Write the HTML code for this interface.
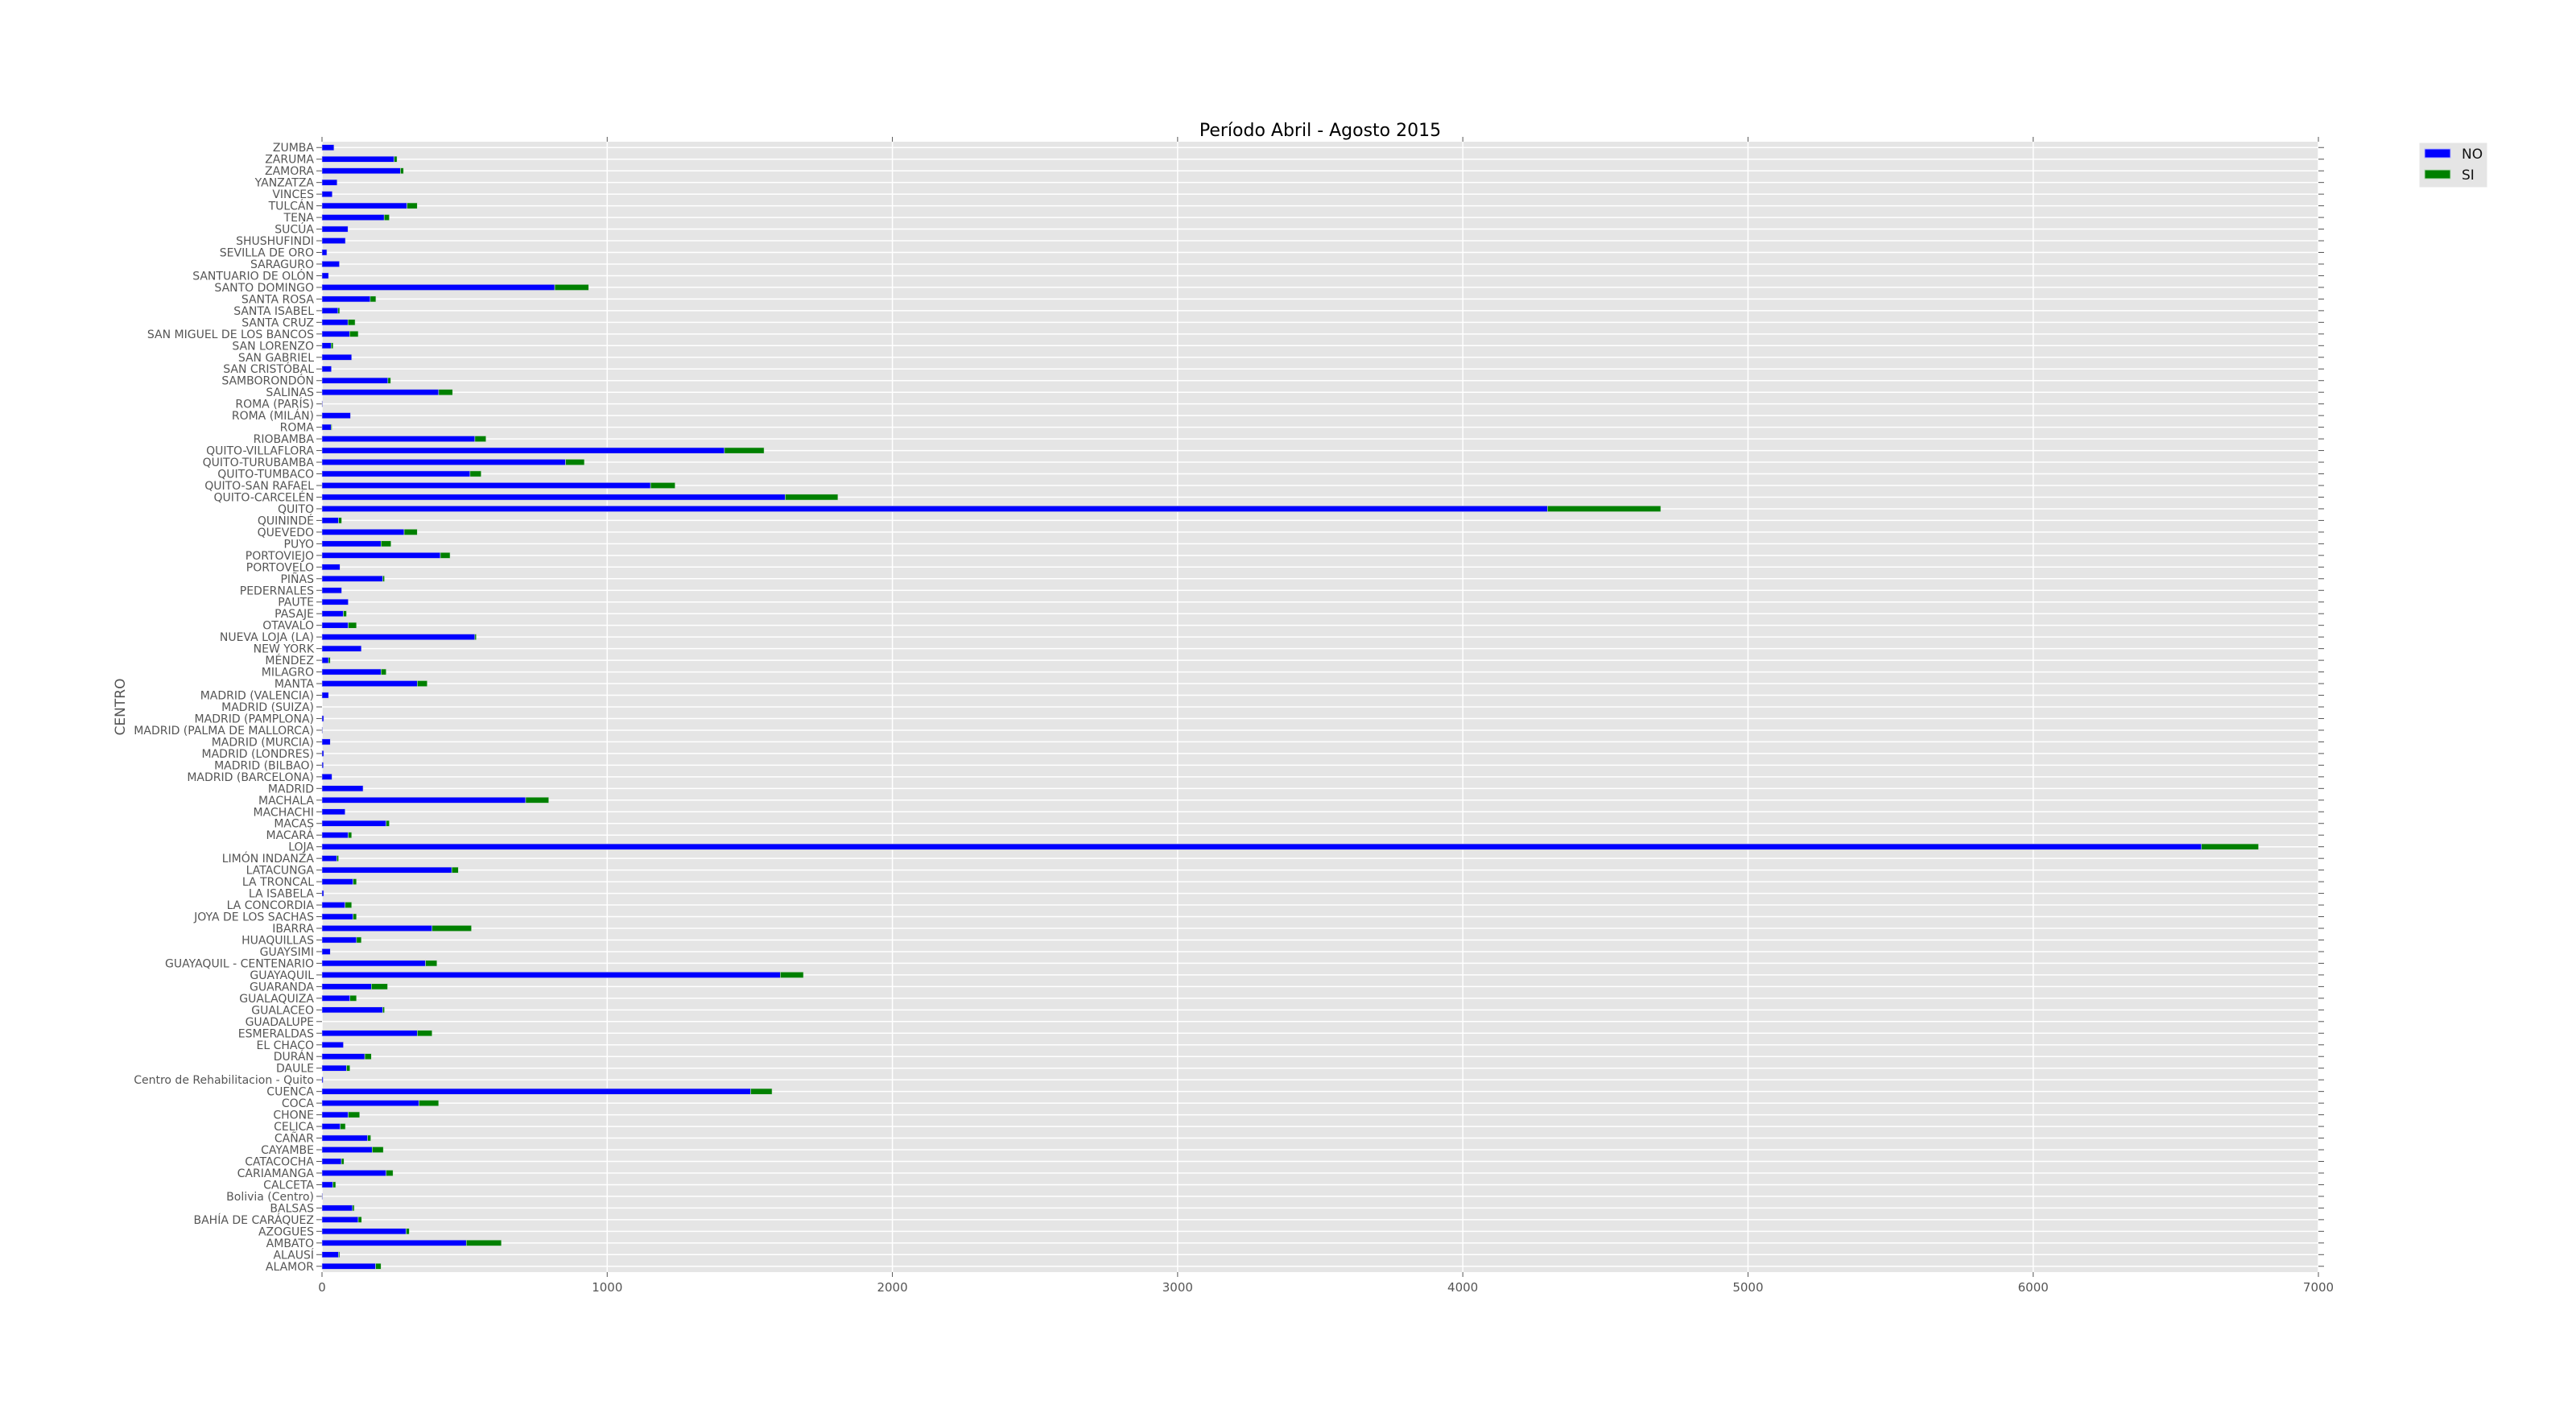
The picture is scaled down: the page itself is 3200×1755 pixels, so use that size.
<!DOCTYPE html>
<html><head><meta charset="utf-8"><style>
html,body{margin:0;padding:0;background:#fff;}
svg{display:block;font-family:"DejaVu Sans","Liberation Sans",sans-serif;}
</style></head><body>
<svg id="chart" width="3200" height="1755" viewBox="0 0 3200 1755" xmlns="http://www.w3.org/2000/svg">
<text x="1640" y="169" font-size="22" text-anchor="middle" fill="#000">Período Abril - Agosto 2015</text>
<text x="0" y="0" font-size="17" fill="#555" text-anchor="middle" transform="translate(155,878) rotate(-90)">CENTRO</text>
<g id="legend">
<rect x="3005" y="177" width="85" height="56" fill="#e5e5e5" stroke="#fff"/>
<rect x="3012" y="185" width="32" height="11" fill="#0000ff" stroke="#bbf"/>
<text x="3058" y="197" font-size="17" fill="#111">NO</text>
<rect x="3012" y="211" width="32" height="11" fill="#008000" stroke="#bdb"/>
<text x="3058" y="223" font-size="17" fill="#111">SI</text>
</g>
</svg>
<script>
const categories = ["ZUMBA","ZARUMA","ZAMORA","YANZATZA","VINCES","TULCÁN","TENA","SUCÚA","SHUSHUFINDI","SEVILLA DE ORO","SARAGURO","SANTUARIO DE OLÓN","SANTO DOMINGO","SANTA ROSA","SANTA ISABEL","SANTA CRUZ","SAN MIGUEL DE LOS BANCOS","SAN LORENZO","SAN GABRIEL","SAN CRISTÓBAL","SAMBORONDÓN","SALINAS","ROMA (PARÍS)","ROMA (MILÁN)","ROMA","RIOBAMBA","QUITO-VILLAFLORA","QUITO-TURUBAMBA","QUITO-TUMBACO","QUITO-SAN RAFAEL","QUITO-CARCELÉN","QUITO","QUININDÉ","QUEVEDO","PUYO","PORTOVIEJO","PORTOVELO","PIÑAS","PEDERNALES","PAUTE","PASAJE","OTAVALO","NUEVA LOJA (LA)","NEW YORK","MÉNDEZ","MILAGRO","MANTA","MADRID (VALENCIA)","MADRID (SUIZA)","MADRID (PAMPLONA)","MADRID (PALMA DE MALLORCA)","MADRID (MURCIA)","MADRID (LONDRES)","MADRID (BILBAO)","MADRID (BARCELONA)","MADRID","MACHALA","MACHACHI","MACAS","MACARÁ","LOJA","LIMÓN INDANZA","LATACUNGA","LA TRONCAL","LA ISABELA","LA CONCORDIA","JOYA DE LOS SACHAS","IBARRA","HUAQUILLAS","GUAYSIMI","GUAYAQUIL - CENTENARIO","GUAYAQUIL","GUARANDA","GUALAQUIZA","GUALACEO","GUADALUPE","ESMERALDAS","EL CHACO","DURÁN","DAULE","Centro de Rehabilitacion - Quito","CUENCA","COCA","CHONE","CELICA","CAÑAR","CAYAMBE","CATACOCHA","CARIAMANGA","CALCETA","Bolivia (Centro)","BALSAS","BAHÍA DE CARÁQUEZ","AZOGUES","AMBATO","ALAUSÍ","ALAMOR"];
const noValues = [42,253,275,53,36,298,218,91,82,17,61,23,816,169,56,91,97,32,104,33,231,409,2,100,32,536,1411,854,519,1152,1624,4297,58,288,207,415,63,213,69,92,75,92,536,138,23,207,334,23,0,6,2,29,6,5,35,144,714,81,225,92,6590,52,455,109,6,81,109,386,121,29,363,1607,173,98,213,0,334,75,150,86,4,1503,340,92,64,160,176,68,225,38,2,107,127,295,506,58,188];
const siValues = [0,10,11,0,0,36,18,0,0,0,0,0,119,20,6,25,30,7,0,0,10,49,0,0,3,39,139,66,39,86,185,397,11,46,35,34,0,6,0,0,11,29,5,0,6,18,35,0,0,0,0,0,0,0,0,0,81,0,11,12,200,6,23,12,0,23,12,138,17,0,40,81,57,23,6,0,52,0,23,12,0,75,69,40,18,11,39,9,24,10,0,6,12,11,123,4,19];
const xTicks = [0,1000,2000,3000,4000,5000,6000,7000];
const xMax = 7000;

const NS = "http://www.w3.org/2000/svg";
const svg = document.getElementById("chart");
const L = 400, R = 2880, T = 176, B = 1580;
const n = categories.length;
const step = (B - T) / n;
const xs = v => L + (v / xMax) * (R - L);
const yc = i => T + step * (i + 0.5);
function mk(tag, attrs, parent) {
  const e = document.createElementNS(NS, tag);
  for (const k in attrs) e.setAttribute(k, attrs[k]);
  (parent || svg).appendChild(e);
  return e;
}
const legend = document.getElementById("legend");
const plot = mk("rect", {x: L, y: T, width: R - L, height: B - T, fill: "#e5e5e5"});


svg.insertBefore(plot, legend);
const grid = mk("g", {stroke: "#fff", "stroke-width": 1.5});


svg.insertBefore(grid, legend);
xTicks.forEach(t => {
  const x = xs(t);
  mk("line", {x1: x, x2: x, y1: T, y2: B}, grid);
  const tk = mk("line", {x1: x, x2: x, y1: B, y2: B + 6, stroke: "#555"});
  
  
  mk("line", {x1: x, x2: x, y1: T, y2: T - 6, stroke: "#555"});
  const lb = mk("text", {x: x, y: B + 24, "font-size": 15, fill: "#555", "text-anchor": "middle"});
  lb.textContent = t;
  
  
});
categories.forEach((c, i) => {
  const y = yc(i);
  mk("line", {x1: L, x2: R, y1: y, y2: y}, grid);
  mk("line", {x1: L - 7, x2: L, y1: y, y2: y, stroke: "#555"});
  mk("line", {x1: R, x2: R + 7, y1: y, y2: y, stroke: "#555"});
  const lb = mk("text", {x: L - 10, y: y + 5, "font-size": 14, fill: "#555", "text-anchor": "end"});
  lb.textContent = c;
  
  
  const h = step * 0.5;
  const b1 = mk("rect", {x: xs(0), y: y - h / 2, width: Math.max(0, xs(noValues[i]) - xs(0)), height: h, fill: "#0000ff", stroke: "#ccd", "stroke-width": 0.6});
  
  
  const b2 = mk("rect", {x: xs(noValues[i]), y: y - h / 2, width: Math.max(0, xs(noValues[i] + siValues[i]) - xs(noValues[i])), height: h, fill: "#008000", stroke: "#cdc", "stroke-width": 0.6});
  
  
});
</script>
</body></html>
